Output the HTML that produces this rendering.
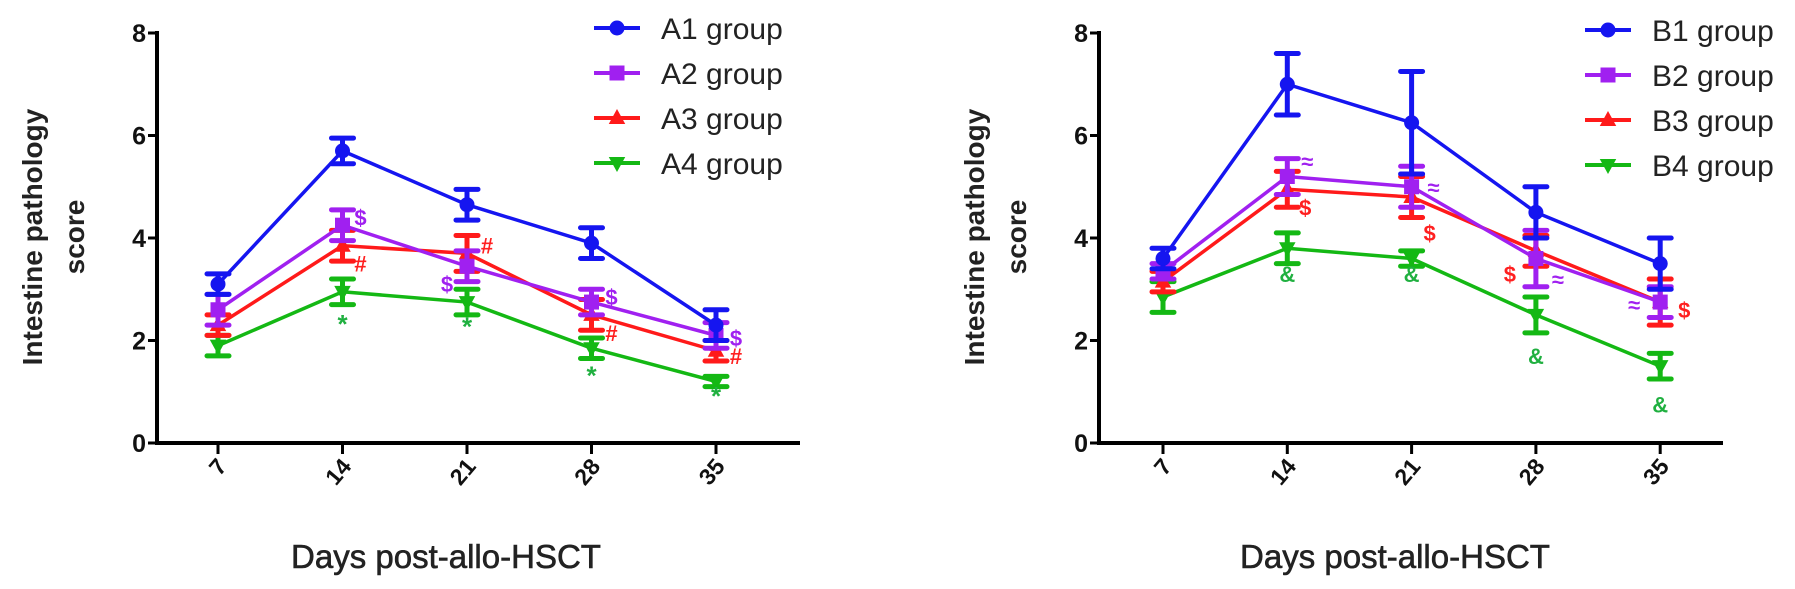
<!DOCTYPE html>
<html><head><meta charset="utf-8"><style>
html,body{margin:0;padding:0;background:#fff;}
svg{display:block;font-family:"Liberation Sans",Arial,sans-serif;}
</style></head><body>
<svg id="chart" width="1795" height="589" viewBox="0 0 1795 589" xmlns="http://www.w3.org/2000/svg"></svg>
<script>
const categories = ["7","14","21","28","35"];
const yTicks = [0,2,4,6,8];
const groupsA = ["A1 group","A2 group","A3 group","A4 group"];
const groupsB = ["B1 group","B2 group","B3 group","B4 group"];
const A1 = [3.1,5.7,4.65,3.9,2.3];
const A1err = [0.2,0.25,0.3,0.3,0.3];
const A2 = [2.6,4.25,3.45,2.75,2.1];
const A2err = [0.3,0.3,0.3,0.25,0.25];
const A3 = [2.3,3.85,3.7,2.5,1.8];
const A3err = [0.2,0.3,0.35,0.3,0.2];
const A4 = [1.9,2.95,2.75,1.85,1.2];
const A4err = [0.2,0.25,0.25,0.2,0.1];
const B1 = [3.6,7.0,6.25,4.5,3.5];
const B1err = [0.2,0.6,1.0,0.5,0.5];
const B2 = [3.35,5.2,5.0,3.6,2.75];
const B2err = [0.15,0.35,0.4,0.55,0.3];
const B3 = [3.15,4.95,4.8,3.75,2.75];
const B3err = [0.2,0.35,0.4,0.3,0.45];
const B4 = [2.85,3.8,3.6,2.5,1.5];
const B4err = [0.3,0.3,0.15,0.35,0.25];
// annotations: [category index, y value, text, color, dx]
const annA = [[1,4.4,"$","#a020f0",18],[1,3.5,"#","#ff2020",18],[2,3.85,"#","#ff2020",20],[2,3.1,"$","#a020f0",-20],[3,2.85,"$","#a020f0",20],[3,2.15,"#","#ff2020",20],[4,2.05,"$","#a020f0",20],[4,1.7,"#","#ff2020",20],[1,2.3,"*","#20b040",0],[2,2.25,"*","#20b040",0],[3,1.3,"*","#20b040",0],[4,0.9,"*","#20b040",0]];
const annB = [[1,5.5,"≈","#a020f0",20],[2,5.0,"≈","#a020f0",22],[3,3.2,"≈","#a020f0",22],[4,2.7,"≈","#a020f0",-26],[1,4.6,"$","#ff2020",18],[2,4.1,"$","#ff2020",18],[3,3.3,"$","#ff2020",-26],[4,2.6,"$","#ff2020",24],[1,3.3,"&","#20b040",0],[2,3.3,"&","#20b040",0],[3,1.7,"&","#20b040",0],[4,0.75,"&","#20b040",0]];

const colors = ["#1515f0","#a020f0","#ff1a1a","#14b814"];
const shapes = ["circle","square","tri","tridown"];
const NS = "http://www.w3.org/2000/svg";
const svg = document.getElementById("chart");
function mk(tag, attrs, parent){const e=document.createElementNS(NS,tag);for(const k in attrs)e.setAttribute(k,attrs[k]);(parent||svg).appendChild(e);return e;}

function marker(g,shape,x,y,c,r){
  let e;
  if(shape==="circle") e=mk("circle",{cx:x,cy:y,r:r,fill:c},g);
  else if(shape==="square") e=mk("rect",{x:x-r,y:y-r,width:2*r,height:2*r,fill:c},g);
  else if(shape==="tri") e=mk("polygon",{points:`${x},${y-r*1.2} ${x-r*1.1},${y+r*0.8} ${x+r*1.1},${y+r*0.8}`,fill:c},g);
  else e=mk("polygon",{points:`${x},${y+r*1.2} ${x-r*1.1},${y-r*0.8} ${x+r*1.1},${y-r*0.8}`,fill:c},g);
  return e;
}

function panel(cfg){
  const {axisX,x0,dx,xEnd,series,errs,names,ann,legX,legY,titleX,prefix} = cfg;
  const yTop=33, yBot=443;
  const yS = v => yBot - (v/8)*(yBot-yTop);
  const xS = i => x0 + i*dx;
  const g = mk("g",{});
  
  
  // axes
  const ya = mk("line",{x1:axisX,y1:yTop-2,x2:axisX,y2:yBot+2,stroke:"#000","stroke-width":4},g);
  
  
  const xa = mk("line",{x1:axisX-2,y1:yBot,x2:xEnd,y2:yBot,stroke:"#000","stroke-width":4},g);
  
  
  yTicks.forEach(t=>{
    mk("line",{x1:axisX-9,y1:yS(t),x2:axisX,y2:yS(t),stroke:"#000","stroke-width":3},g);
    const tx = mk("text",{x:axisX-11,y:yS(t)+9,"text-anchor":"end","font-size":25,"font-weight":"bold",fill:"#111"},g);
    tx.textContent=t;
    
    
  });
  categories.forEach((c,i)=>{
    mk("line",{x1:xS(i),y1:yBot,x2:xS(i),y2:yBot+11,stroke:"#000","stroke-width":3},g);
    const tx = mk("text",{x:0,y:0,"text-anchor":"end","font-size":23,"font-weight":"bold",fill:"#111",transform:`translate(${xS(i)+10},${yBot+24}) rotate(-50)`},g);
    tx.textContent=c;
    
    
  });
  const xt = mk("text",{x:titleX,y:568,"text-anchor":"middle","font-size":33,fill:"#222",stroke:"#222","stroke-width":0.6},g);
  xt.textContent="Days post-allo-HSCT";
  
  
  const yt = mk("text",{x:0,y:0,"text-anchor":"middle","font-size":28,"font-weight":"bold",fill:"#222",transform:`translate(${axisX-115},237) rotate(-90)`},g);
  yt.textContent="Intestine pathology";
  
  
  const yt2 = mk("text",{x:0,y:0,"text-anchor":"middle","font-size":28,"font-weight":"bold",fill:"#222",transform:`translate(${axisX-73},237) rotate(-90)`},g);
  yt2.textContent="score";
  
  
  // series (draw last series first so first on top)
  for(let s=series.length-1;s>=0;s--){
    const vals=series[s], er=errs[s], c=colors[s];
    const sg = mk("g",{},g);
    
    
    const pl = mk("polyline",{points:vals.map((v,i)=>`${xS(i)},${yS(v)}`).join(" "),fill:"none",stroke:c,"stroke-width":3.5},sg);
    
    
    vals.forEach((v,i)=>{
      const x=xS(i), hi=yS(v+er[i]), lo=yS(v-er[i]);
      const eb = mk("path",{d:`M${x},${hi}V${lo}M${x-11},${hi}H${x+11}M${x-11},${lo}H${x+11}`,stroke:c,"stroke-width":5,"stroke-linecap":"round",fill:"none"},sg);
      
      
      const m = marker(sg,shapes[s],x,yS(v),c,7.5);
      
      
    });
  }
  ann.forEach(a=>{
    const [i,v,t,c,d]=a;
    const tx = mk("text",{x:xS(i)+d,y:yS(v)+8,"text-anchor":"middle","font-size":t==="*"?26:22,"font-weight":"bold",fill:c},g);
    tx.textContent=t;
    
    
  });
  // legend
  names.forEach((n,s)=>{
    const y=legY+s*45;
    const lg = mk("g",{},g);
    
    
    mk("line",{x1:legX,y1:y,x2:legX+46,y2:y,stroke:colors[s],"stroke-width":4},lg);
    marker(lg,shapes[s],legX+23,y,colors[s],7.5);
    const tx = mk("text",{x:legX+67,y:y+11,"font-size":30,fill:"#222"},lg);
    tx.textContent=n;
  });
}

panel({prefix:"a",axisX:157,x0:218,dx:124.5,xEnd:800,series:[A1,A2,A3,A4],errs:[A1err,A2err,A3err,A4err],names:groupsA,ann:annA,legX:594,legY:28,titleX:446});
panel({prefix:"b",axisX:1099,x0:1163,dx:124.3,xEnd:1723,series:[B1,B2,B3,B4],errs:[B1err,B2err,B3err,B4err],names:groupsB,ann:annB,legX:1585,legY:30,titleX:1395});
</script>
</body></html>
